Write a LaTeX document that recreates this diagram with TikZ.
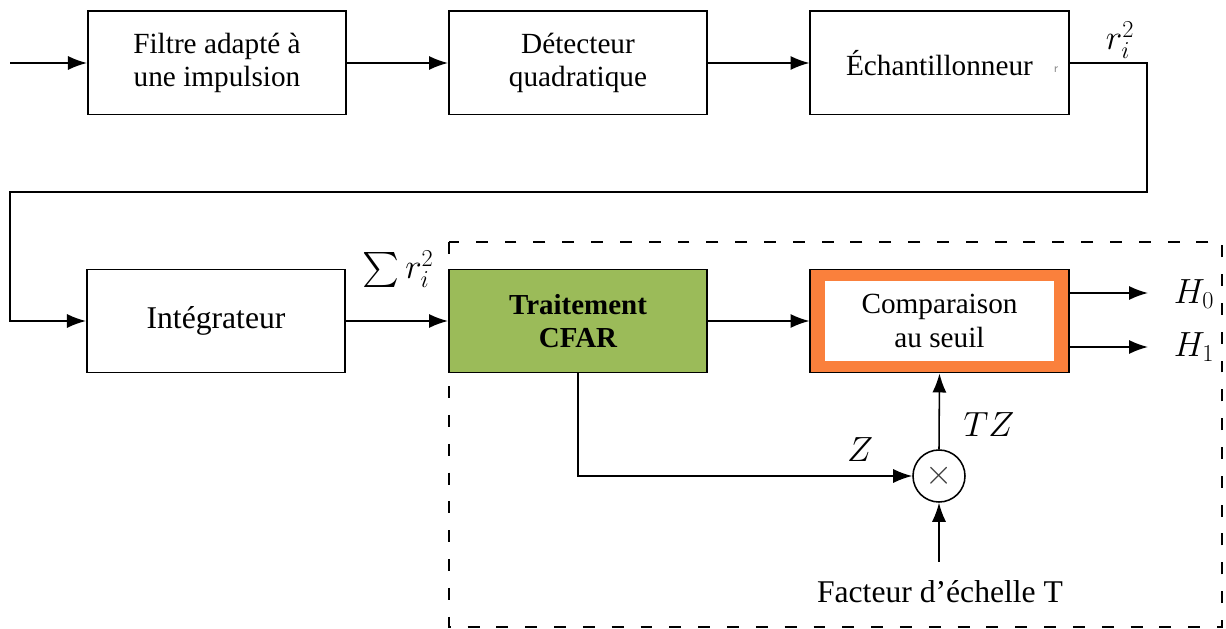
\documentclass[tikz,border=0pt]{standalone}
\usepackage{amsmath}
\usepackage{fontspec}
\setmainfont{Liberation Serif}
\usetikzlibrary{arrows.meta,calc}
\definecolor{cfargreen}{RGB}{155,187,89}
\definecolor{cmporange}{RGB}{250,128,60}

\begin{document}
\begin{tikzpicture}[x=0.025cm,y=-0.025cm,
  blk/.style={draw=black, line width=1.4pt, minimum width=6.45cm,
    minimum height=2.575cm, inner sep=0pt, align=center,
    font=\fontsize{20.8}{24}\selectfont},
  conn/.style={line width=1.1pt},
  arr/.style={conn, -{Latex[length=13.5pt,width=10pt]}},
  lbl/.style={inner sep=0pt, font=\fontsize{25}{28}\selectfont},
]
\useasboundingbox (0,0) rectangle (1226,629);

% detection / CFAR area
\draw[conn, dash pattern=on 8.5pt off 12pt] (449,242) rectangle (1222,627);

% first row
\node[blk] (filt) at (217,63) {Filtre adapté à\\une impulsion};
\node[blk] (det) at (578,63) {Détecteur\\quadratique};
\node[blk] (ech) at (939.5,63) {Échantillonneur};
\node[text=black!45, font=\sffamily\fontsize{9}{10}\selectfont, inner sep=0pt] (mark) at (1056,70) {r};

% second row
\node[blk, font=\fontsize{22.5}{26}\selectfont] (integ) at (216,321) {Intégrateur};
\node[blk, fill=cfargreen, font=\bfseries\fontsize{20.6}{24}\selectfont] (cfar) at (578,321) {Traitement\\CFAR};
\node[blk, fill=cmporange] (comp) at (939.5,321) {};
\node[fill=white, minimum width=5.7cm, minimum height=2cm, inner sep=0pt,
  align=center, font=\fontsize{20.8}{24}\selectfont] (compin) at (comp.center) {Comparaison\\au seuil};
\node[circle, draw, line width=1.1pt, minimum size=1.3cm, inner sep=0pt,
  font=\fontsize{24}{26}\selectfont, text=black!75] (mult) at (939,476) {$\times$};

% labels
\node[lbl] (ri2) at (1120,40) {$r_i^2$};
\node[lbl] (sumr) at (398,269) {$\textstyle\sum r_i^2$};
\node[lbl] (h0l) at (1194,294) {$H_0$};
\node[lbl] (h1l) at (1194,347) {$H_1$};
\node[lbl] (zl) at (860,450) {$Z$};
\node[lbl] (tzl) at (989,425) {$TZ$};
\node[inner sep=0pt, font=\fontsize{22.5}{26}\selectfont] (fact) at (940,592) {Facteur d’échelle T};

% free ends and bends
\coordinate (in) at (10,63);
\coordinate (fbA) at (1147,192);
\coordinate (fbB) at (10,192);
\coordinate (o0) at (1148,293);
\coordinate (o1) at (1148,347);
\coordinate (fT) at (939,562);

% connectors
\draw[arr] (in) -- (filt.west);
\draw[arr] (filt.east) -- (det.west);
\draw[arr] (det.east) -- (ech.west);
\draw[arr] (ech.east) -| (fbA) -- (fbB) |- (integ.west);
\draw[arr] (integ.east) -- (cfar.west);
\draw[arr] (cfar.east) -- (comp.west);
\draw[arr] (comp.east |- o0) -- (o0);
\draw[arr] (comp.east |- o1) -- (o1);
\draw[arr] (cfar.south) |- (mult.west);
\draw[arr] (mult.north) -- (comp.south);
\draw[arr] (fT) -- (mult.south);
\end{tikzpicture}
\end{document}
